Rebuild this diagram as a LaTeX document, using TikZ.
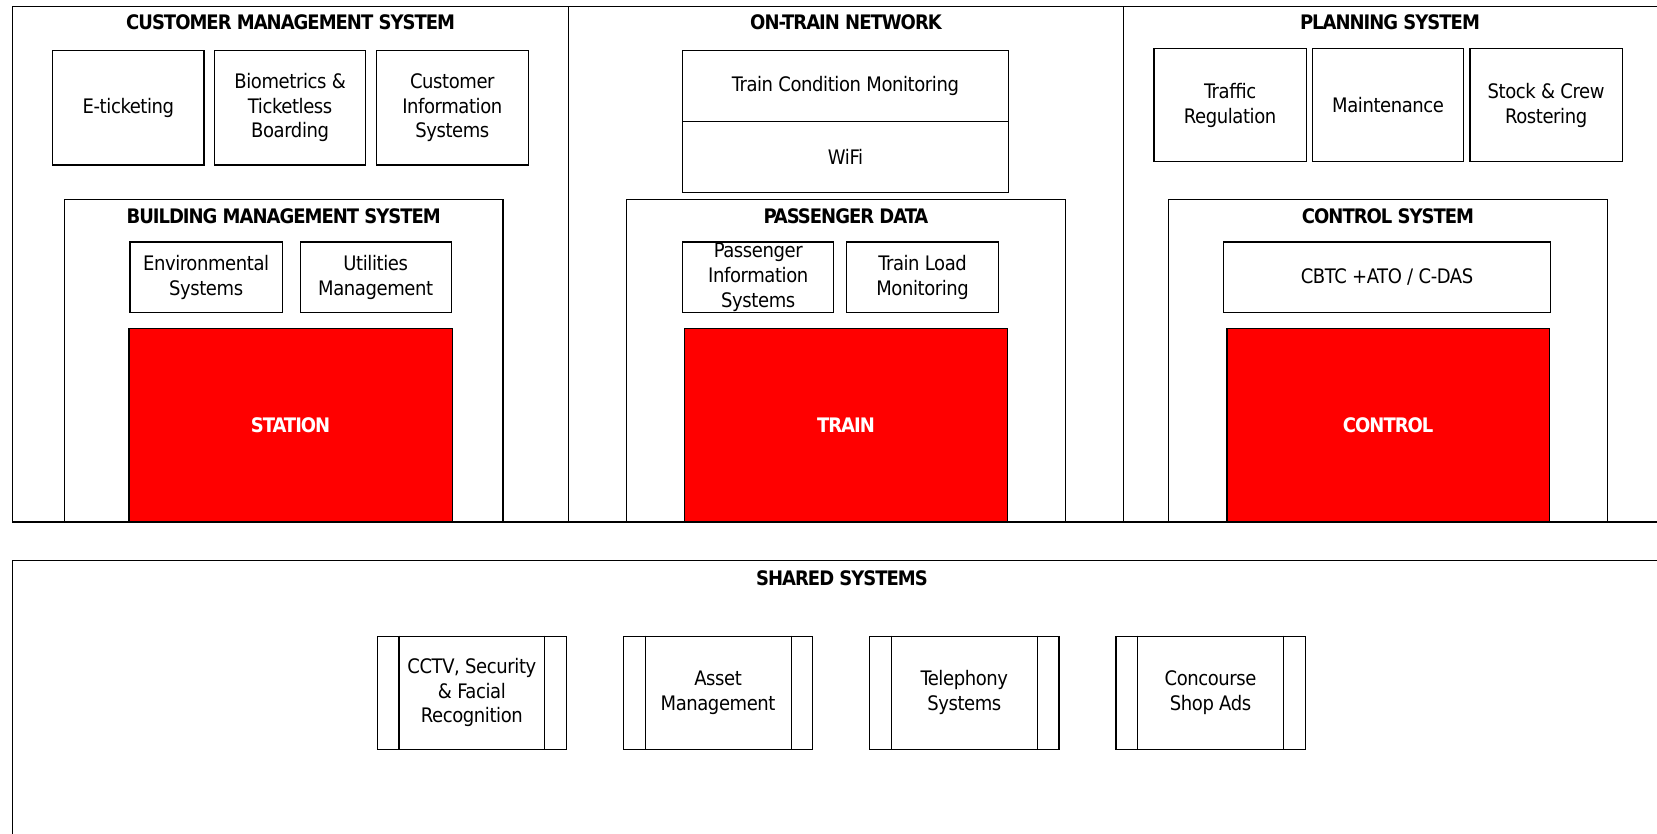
\documentclass[tikz,border=0pt]{standalone}
\usepackage{fontspec}
\setmainfont{DejaVu Sans Condensed}[LetterSpace=-2]
\newfontfamily\ttlfont{DejaVu Sans Condensed Bold}[LetterSpace=-5]
\usetikzlibrary{fit}
\tikzset{
  panel/.style={draw, line width=0.9pt, inner sep=0pt},
  box/.style={draw, line width=0.9pt, inner sep=0pt},
  txt/.style={inner sep=0pt, align=center, font=\fontsize{15}{18.5}\selectfont},
  redbox/.style={draw, line width=0.9pt, inner sep=0pt, fill=red},
  redtxt/.style={inner sep=0pt, text=white, font=\ttlfont\fontsize{15}{18}\selectfont},
  ttl/.style={inner sep=0pt, font=\ttlfont\fontsize{15}{18}\selectfont},
  bar/.style={line width=0.9pt}
}
\begin{document}
\begin{tikzpicture}[x=0.75pt,y=-0.75pt]
\useasboundingbox (0,0) rectangle (1657,833);
\fill[white] (0,0) rectangle (1657,833);
% top panels
\node[panel, fit={(12.7,6.3) (568.6,522)}] (cms) {};
\node[panel, fit={(568.6,6.3) (1123.4,522)}] (otn) {};
\node[panel, fit={(1123.4,6.3) (1672,522)}] (pls) {};
\node[ttl] (cmst) at (290.6,22) {CUSTOMER MANAGEMENT SYSTEM};
\node[ttl] (otnt) at (846,22) {ON-TRAIN NETWORK};
\node[ttl] (plst) at (1390,22) {PLANNING SYSTEM};
% customer management
\node[box, fit={(52.8,50.7) (204,164.9)}] (eticket) {};
\node[txt] at (eticket.center) {E-ticketing};
\node[box, fit={(214.5,50.7) (365.7,164.9)}] (bio) {};
\node[txt] at (bio.center) {Biometrics \&\\Ticketless\\Boarding};
\node[box, fit={(376.2,50.7) (528.4,164.9)}] (cis) {};
\node[txt] at (cis.center) {Customer\\Information\\Systems};
% building management
\node[panel, fit={(64.5,199.7) (503,522)}] (bms) {};
\node[ttl] (bmst) at (283.7,216.5) {BUILDING MANAGEMENT SYSTEM};
\node[box, fit={(130,242) (282.2,312.8)}] (env) {};
\node[txt] at (env.center) {Environmental\\Systems};
\node[box, fit={(300.1,242) (451.3,312.8)}] (util) {};
\node[txt] at (util.center) {Utilities\\Management};
\node[redbox, fit={(128.9,328.7) (452.3,522)}] (station) {};
\node[redtxt] at (station.center) {STATION};
% on-train network
\node[box, fit={(682.7,50.7) (1008.2,121.5)}] (tcm) {};
\node[txt] at (tcm.center) {Train Condition Monitoring};
\node[box, fit={(682.7,121.5) (1008.2,192.3)}] (wifi) {};
\node[txt] at (wifi.center) {WiFi};
\node[panel, fit={(626.7,199.7) (1065.3,522)}] (pd) {};
\node[ttl] (pdt) at (846,216.5) {PASSENGER DATA};
\node[box, fit={(682.7,242) (833.8,312.8)}] (pis) {};
\node[txt] at (pis.center) {Passenger\\Information\\Systems};
\node[box, fit={(846.5,242) (998.7,312.8)}] (tlm) {};
\node[txt] at (tlm.center) {Train Load\\Monitoring};
\node[redbox, fit={(684.8,328.7) (1007.1,522)}] (train) {};
\node[redtxt] at (train.center) {TRAIN};
% planning system
\node[box, fit={(1154,48.6) (1306.2,161.7)}] (traffic) {};
\node[txt] at (traffic.center) {Traffic\\Regulation};
\node[box, fit={(1312.5,48.6) (1463.7,161.7)}] (maint) {};
\node[txt] at (maint.center) {Maintenance};
\node[box, fit={(1470,48.6) (1622.2,161.7)}] (stock) {};
\node[txt] at (stock.center) {Stock \& Crew\\Rostering};
\node[panel, fit={(1168.8,199.7) (1607.4,522)}] (cs) {};
\node[ttl] (cst) at (1388,216.5) {CONTROL SYSTEM};
\node[box, fit={(1223.8,242) (1550.3,312.8)}] (cbtc) {};
\node[txt] at (cbtc.center) {CBTC +ATO / C-DAS};
\node[redbox, fit={(1227,328.7) (1549.3,522)}] (control) {};
\node[redtxt] at (control.center) {CONTROL};
% shared systems
\node[panel, fit={(12.7,560.1) (1690,860)}] (shared) {};
\node[ttl] (sharedt) at (842,578) {SHARED SYSTEMS};
\node[box, fit={(377.3,636.2) (566.4,749.3)}] (cctv) {};
\node[txt] at (cctv.center) {CCTV, Security\\\& Facial\\Recognition};
\node[box, fit={(623.5,636.2) (812.7,749.3)}] (asset) {};
\node[txt] at (asset.center) {Asset\\Management};
\node[box, fit={(869.7,636.2) (1058.9,749.3)}] (tel) {};
\node[txt] at (tel.center) {Telephony\\Systems};
\node[box, fit={(1116,636.2) (1305.1,749.3)}] (shop) {};
\node[txt] at (shop.center) {Concourse\\Shop Ads};
\foreach \n in {cctv,asset,tel,shop}{
  \draw[bar] ([xshift=16.65pt]\n.north west) -- ([xshift=16.65pt]\n.south west);
  \draw[bar] ([xshift=-16.65pt]\n.north east) -- ([xshift=-16.65pt]\n.south east);
}
\end{tikzpicture}
\end{document}
